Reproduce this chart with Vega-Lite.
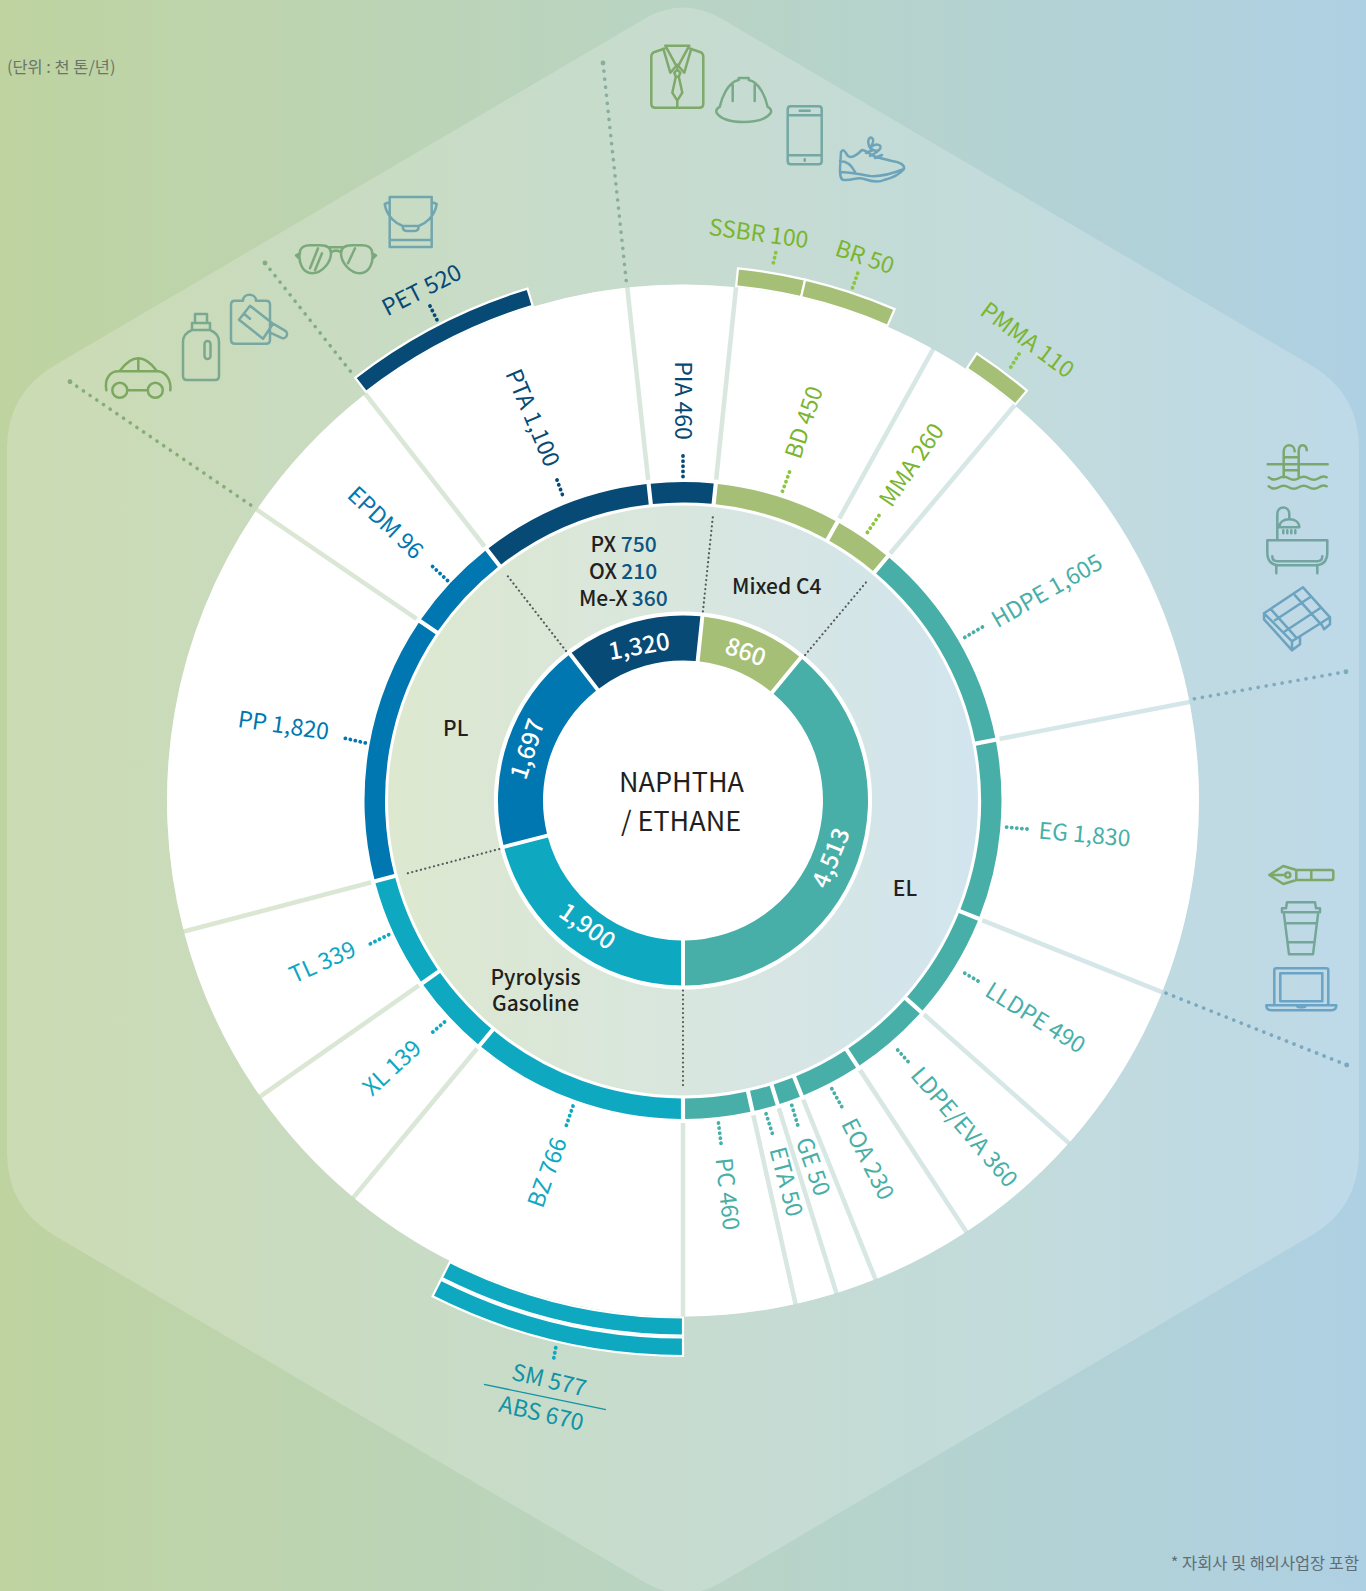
{
"$schema":"https://vega.github.io/schema/vega-lite/v6.json",
"width":1366,"height":1591,"autosize":{"type":"none"},"padding":0,"background":"#b9d4c4",
"config":{"view":{"stroke":null},"axis":{"disable":true},"text":{"font":"Noto Sans CJK KR"}},
"datasets":{
"one":[{"name":"panel"}],
"full":[{"a0":0,"a1":360}],
"seg":[
{"n":"PTA","a0":-38,"a1":-6.2,"g":"PX"},{"n":"PIA","a0":-6.2,"a1":5.9,"g":"PX"},{"n":"BD","a0":5.9,"a1":29,"g":"C4"},{"n":"MMA","a0":29,"a1":40,"g":"C4"},
{"n":"HDPE","a0":40,"a1":79,"g":"EL"},{"n":"EG","a0":79,"a1":111.8,"g":"EL"},{"n":"LLDPE","a0":111.8,"a1":131.6,"g":"EL"},{"n":"LDPE/EVA","a0":131.6,"a1":146.7,"g":"EL"},
{"n":"EOA","a0":146.7,"a1":158.1,"g":"EL"},{"n":"GE","a0":158.1,"a1":162.7,"g":"EL"},{"n":"ETA","a0":162.7,"a1":167.4,"g":"EL"},{"n":"PC","a0":167.4,"a1":180,"g":"EL"},
{"n":"BZ","a0":180,"a1":219.7,"g":"PG"},{"n":"XL","a0":219.7,"a1":235,"g":"PG"},{"n":"TL","a0":235,"a1":255.3,"g":"PG"},{"n":"PP","a0":255.3,"a1":304.3,"g":"PL"},{"n":"EPDM","a0":304.3,"a1":322,"g":"PL"}],
"core":[
{"n":"1,320","a0":-37.6,"a1":6,"g":"PX"},{"n":"860","a0":6,"a1":39.5,"g":"C4"},{"n":"4,513","a0":39.5,"a1":180,"g":"EL"},{"n":"1,900","a0":180,"a1":255.5,"g":"PG"},{"n":"1,697","a0":255.5,"a1":322.4,"g":"PL"}],
"ext":[
{"n":"PET","a0":-37.8,"a1":-16.9,"g":"PX"},{"n":"SSBR","a0":5.9,"a1":13.2,"g":"C4"},{"n":"BR","a0":13.2,"a1":23.3,"g":"C4"},{"n":"PMMA","a0":33.3,"a1":40,"g":"C4"},{"n":"SM","a0":180,"a1":206.8,"g":"PG"}],
"abs":[{"n":"ABS","a0":180,"a1":206.8,"g":"PG"}],
"labels":[
{"t":"PET 520","a":332.9,"r":572.5,"rot":-27,"g":"PX"},{"t":"PTA 1,100","a":338.4,"r":411,"rot":67,"g":"PX"},{"t":"PIA 460","a":359.9,"r":400,"rot":90,"g":"PX"},
{"t":"BD 450","a":17.9,"r":397,"rot":-72,"g":"C4"},{"t":"MMA 260","a":34.4,"r":406,"rot":-55.6,"g":"C4"},{"t":"HDPE 1,605","a":60.2,"r":420,"rot":-29.8,"g":"EL"},
{"t":"EG 1,830","a":95,"r":403,"rot":5,"g":"EL"},{"t":"LLDPE 490","a":121.8,"r":414,"rot":31.8,"g":"EL"},{"t":"LDPE/EVA 360","a":139.4,"r":431,"rot":49.4,"g":"EL"},
{"t":"EOA 230","a":152.9,"r":403.5,"rot":63,"g":"EL"},{"t":"GE 50","a":160.6,"r":388.5,"rot":70.6,"g":"EL"},{"t":"ETA 50","a":165,"r":395,"rot":75,"g":"EL"},{"t":"PC 460","a":173.7,"r":396,"rot":83.7,"g":"EL"},
{"t":"BZ 766","a":199.9,"r":396,"rot":-70,"g":"PG"},{"t":"XL 139","a":227.3,"r":395,"rot":-42.7,"g":"PG"},{"t":"TL 339","a":245.7,"r":395,"rot":-24.3,"g":"PG"},
{"t":"PP 1,820","a":280.5,"r":406.5,"rot":8,"g":"PL"},{"t":"EPDM 96","a":312.9,"r":407,"rot":43,"g":"PL"},
{"t":"SSBR 100","a":7.6,"r":571,"rot":7.6,"g":"C4"},{"t":"BR 50","a":18.5,"r":572,"rot":18.5,"g":"C4"},{"t":"PMMA 110","a":36.8,"r":574,"rot":36.8,"g":"C4"},
{"t":"SM 577","a":193,"r":596,"rot":13,"g":"SM"},{"t":"ABS 670","a":193,"r":630,"rot":13,"g":"SM"}],
"values":[
{"t":"1,320","a":344,"r":159,"rot":-10},{"t":"860","a":22.9,"r":160,"rot":20},{"t":"4,513","a":111.2,"r":160,"rot":-68},{"t":"1,900","a":217.2,"r":159.4,"rot":35},{"t":"1,697","a":288.3,"r":162.6,"rot":-72}],
"zone":[
{"t":"PX","x":603.3,"y":546,"g":"k"},{"t":"750","x":638.8,"y":546,"g":"b"},{"t":"OX","x":603,"y":573,"g":"k"},{"t":"210","x":639.3,"y":573,"g":"b"},{"t":"Me-X","x":603.3,"y":600,"g":"k"},{"t":"360","x":649.7,"y":600,"g":"b"},
{"t":"Mixed C4","x":776.7,"y":588,"g":"k"},{"t":"PL","x":455.7,"y":730,"g":"k"},{"t":"EL","x":905,"y":890,"g":"k"},{"t":"Pyrolysis","x":535.5,"y":978.5,"g":"k"},{"t":"Gasoline","x":535.5,"y":1005,"g":"k"}],
"hub":[{"t":"NAPHTHA","x":681.5,"y":784},{"t":"/ ETHANE","x":681,"y":823}],
"inner":[
{"x":702.9,"y":611.5,"x2":712.8,"y2":517.1},{"x":805.1,"y":655,"x2":866.2,"y2":582.2},{"x":683,"y":990.5,"x2":683,"y2":1085.5},{"x":499.3,"y":849,"x2":407.5,"y2":873.3},{"x":566,"y":651,"x2":507.5,"y2":575.9}],
"long":[
{"n":"packaging","x":265,"y":263,"x2":353.3,"y2":375,"g":"a"},{"n":"auto","x":70,"y":381.7,"x2":255,"y2":508,"g":"b"},{"n":"apparel","x":603,"y":63,"x2":626.7,"y2":285,"g":"c"},{"n":"housing","x":1346,"y":671.7,"x2":1187.4,"y2":700,"g":"d"},{"n":"office","x":1346.7,"y":1065,"x2":1162,"y2":991.5,"g":"e"}],
"dots":[
{"x":430,"y":306,"x2":437,"y2":320,"g":"PX"},{"x":557,"y":480,"x2":564,"y2":499,"g":"PX"},{"x":683,"y":456,"x2":683,"y2":477,"g":"PX"},
{"x":789.5,"y":472,"x2":781.5,"y2":494,"g":"C4"},{"x":879,"y":515.5,"x2":865.6,"y2":535,"g":"C4"},{"x":982.4,"y":627,"x2":962,"y2":639,"g":"EL"},
{"x":1027,"y":829,"x2":1004.7,"y2":827,"g":"EL"},{"x":978,"y":981,"x2":961,"y2":971,"g":"EL"},{"x":908,"y":1061.5,"x2":895,"y2":1047,"g":"EL"},
{"x":841.7,"y":1106.7,"x2":830.7,"y2":1086.7,"g":"EL"},{"x":797.7,"y":1125,"x2":791.7,"y2":1105,"g":"EL"},{"x":772.3,"y":1133.3,"x2":765.7,"y2":1112.7,"g":"EL"},{"x":721,"y":1143.3,"x2":718.3,"y2":1121.7,"g":"EL"},
{"x":573,"y":1106,"x2":566,"y2":1126.5,"g":"PG"},{"x":444.5,"y":1022,"x2":429.3,"y2":1035,"g":"PG"},{"x":388.7,"y":934.7,"x2":368.4,"y2":944.8,"g":"PG"},
{"x":365.3,"y":742.9,"x2":343,"y2":737.8,"g":"PL"},{"x":447.5,"y":580.5,"x2":430.3,"y2":564.3,"g":"PL"},
{"x":775.7,"y":252.7,"x2":772.3,"y2":267.3,"g":"C4"},{"x":857.7,"y":273.3,"x2":852.3,"y2":288.3,"g":"C4"},{"x":1019,"y":354,"x2":1008.8,"y2":370.4,"g":"C4"},{"x":555.7,"y":1347.7,"x2":553,"y2":1362.3,"g":"PG"}],
"icons":[
{"i":"car","x":138.3,"y":378.3},{"i":"bottle","x":201,"y":347},{"i":"board","x":259,"y":316.7},{"i":"glasses","x":336,"y":259.3},{"i":"bucket","x":410.7,"y":222},
{"i":"shirt","x":677.3,"y":76.7},{"i":"helmet","x":743.7,"y":100},{"i":"phone","x":804.7,"y":135.3},{"i":"shoe","x":872,"y":160},
{"i":"pool","x":1297.7,"y":467.3},{"i":"bath","x":1297.3,"y":540.3},{"i":"pallet","x":1297,"y":619.3},
{"i":"pen","x":1301.3,"y":875},{"i":"cup","x":1301,"y":928.3},{"i":"laptop","x":1301.3,"y":989.3}],
"divider":[{"x":484,"y":1384.3,"x2":605.9,"y2":1409.7}]
},
"layer":[
{"data":{"name":"one"},"mark":{"type":"rect","color":{"gradient":"linear","x1":0,"y1":0,"x2":1,"y2":0,"stops":[{"offset":0,"color":"#bfd3a0"},{"offset":0.5,"color":"#b9d4c4"},{"offset":1,"color":"#aed0e3"}]}},
 "encoding":{"x":{"datum":0,"type":"quantitative","scale":{"domain":[0,1366],"range":[0,1366],"nice":false}},"x2":{"datum":1366},"y":{"datum":0,"type":"quantitative","scale":{"domain":[0,1591],"range":[0,1591],"nice":false}},"y2":{"datum":1591}}},
{"data":{"name":"one"},"mark":{"type":"point","filled":true,"color":"#ffffff","opacity":0.2,"size":4,"shape":"M-38,-782 Q0,-804 38,-782 L628.6,-434.9 Q676,-407 676,-352 L676,352 Q676,407 628.6,434.9 L38,782 Q0,804 -38,782 L-628.6,434.9 Q-676,407 -676,352 L-676,-352 Q-676,-407 -628.6,-434.9 Z"},
 "encoding":{"x":{"datum":683,"type":"quantitative"},"y":{"datum":800.5,"type":"quantitative"}}},
{"data":{"name":"full"},"mark":{"type":"arc","innerRadius":0,"outerRadius":516,"color":"#ffffff","opacity":0.33},
 "encoding":{"x":{"datum":683,"type":"quantitative"},"y":{"datum":800.5,"type":"quantitative"},"theta":{"field":"a0","type":"quantitative","stack":null,"scale":{"domain":[0,360],"range":[0,6.283185307179586]}},"theta2":{"field":"a1"}}},
{"data":{"name":"full"},"mark":{"type":"arc","innerRadius":0,"outerRadius":296,"color":{"gradient":"linear","x1":0,"y1":0,"x2":1,"y2":0,"stops":[{"offset":0,"color":"#dde8cf"},{"offset":0.5,"color":"#d8e6de"},{"offset":1,"color":"#d2e5ef"}]}},
 "encoding":{"x":{"datum":683,"type":"quantitative"},"y":{"datum":800.5,"type":"quantitative"},"theta":{"field":"a0","type":"quantitative","stack":null,"scale":{"domain":[0,360],"range":[0,6.283185307179586]}},"theta2":{"field":"a1"}}},
{"data":{"name":"full"},"mark":{"type":"arc","innerRadius":295,"outerRadius":322.5,"color":"#ffffff"},
 "encoding":{"x":{"datum":683,"type":"quantitative"},"y":{"datum":800.5,"type":"quantitative"},"theta":{"field":"a0","type":"quantitative","stack":null,"scale":{"domain":[0,360],"range":[0,6.283185307179586]}},"theta2":{"field":"a1"}}},
{"data":{"name":"seg"},"mark":{"type":"arc","innerRadius":322,"outerRadius":516,"padAngle":0.0075,"color":"#ffffff"},
 "encoding":{"x":{"datum":683,"type":"quantitative"},"y":{"datum":800.5,"type":"quantitative"},"theta":{"field":"a0","type":"quantitative","stack":null,"scale":{"domain":[0,360],"range":[0,6.283185307179586]}},"theta2":{"field":"a1"}}},
{"data":{"name":"full"},"mark":{"type":"arc","innerRadius":0,"outerRadius":189,"color":"#ffffff"},
 "encoding":{"x":{"datum":683,"type":"quantitative"},"y":{"datum":800.5,"type":"quantitative"},"theta":{"field":"a0","type":"quantitative","stack":null,"scale":{"domain":[0,360],"range":[0,6.283185307179586]}},"theta2":{"field":"a1"}}},
{"data":{"name":"core"},"mark":{"type":"arc","innerRadius":140,"outerRadius":185,"padAngle":0.017},
 "encoding":{"x":{"datum":683,"type":"quantitative"},"y":{"datum":800.5,"type":"quantitative"},"theta":{"field":"a0","type":"quantitative","stack":null,"scale":{"domain":[0,360],"range":[0,6.283185307179586]}},"theta2":{"field":"a1"},
 "color":{"field":"g","type":"nominal","legend":null,"scale":{"domain":["PX","C4","EL","PG","PL"],"range":["#064a75","#a5c076","#47afa7","#0ea8c1","#0077b0"]}}}},
{"data":{"name":"seg"},"mark":{"type":"arc","innerRadius":298,"outerRadius":318.5,"padAngle":0.0095},
 "encoding":{"x":{"datum":683,"type":"quantitative"},"y":{"datum":800.5,"type":"quantitative"},"theta":{"field":"a0","type":"quantitative","stack":null,"scale":{"domain":[0,360],"range":[0,6.283185307179586]}},"theta2":{"field":"a1"},
 "color":{"field":"g","type":"nominal","legend":null,"scale":{"domain":["PX","C4","EL","PG","PL"],"range":["#064a75","#a5c076","#47afa7","#0ea8c1","#0077b0"]}}}},
{"data":{"name":"ext"},"mark":{"type":"arc","innerRadius":517,"outerRadius":535,"stroke":"#ffffff","strokeWidth":2.2},
 "encoding":{"x":{"datum":683,"type":"quantitative"},"y":{"datum":800.5,"type":"quantitative"},"theta":{"field":"a0","type":"quantitative","stack":null,"scale":{"domain":[0,360],"range":[0,6.283185307179586]}},"theta2":{"field":"a1"},
 "fill":{"field":"g","type":"nominal","legend":null,"scale":{"domain":["PX","C4","PG"],"range":["#064a75","#a5c076","#0ea8c1"]}}}},
{"data":{"name":"abs"},"mark":{"type":"arc","innerRadius":537,"outerRadius":555.5,"stroke":"#ffffff","strokeWidth":2.2,"color":"#0ea8c1"},
 "encoding":{"x":{"datum":683,"type":"quantitative"},"y":{"datum":800.5,"type":"quantitative"},"theta":{"field":"a0","type":"quantitative","stack":null,"scale":{"domain":[0,360],"range":[0,6.283185307179586]}},"theta2":{"field":"a1"}}},
{"data":{"name":"inner"},"mark":{"type":"rule","color":"#555a5c","strokeWidth":2.2,"strokeCap":"round","strokeDash":[0.1,4.4]},
 "encoding":{"x":{"field":"x","type":"quantitative"},"y":{"field":"y","type":"quantitative"},"x2":{"field":"x2"},"y2":{"field":"y2"}}},
{"data":{"name":"long"},"mark":{"type":"rule","strokeWidth":3.6,"strokeCap":"round","strokeDash":[0.1,8]},
 "encoding":{"x":{"field":"x","type":"quantitative"},"y":{"field":"y","type":"quantitative"},"x2":{"field":"x2"},"y2":{"field":"y2"},
 "color":{"field":"g","type":"nominal","legend":null,"scale":{"domain":["a","b","c","d","e"],"range":["#83ab84","#86ad78","#8aae9e","#7fabbf","#79a9c1"]}}}},
{"data":{"name":"long"},"mark":{"type":"point","filled":true,"opacity":1,"size":24},
 "encoding":{"x":{"field":"x","type":"quantitative"},"y":{"field":"y","type":"quantitative"},
 "color":{"field":"g","type":"nominal","legend":null,"scale":{"domain":["a","b","c","d","e"],"range":["#83ab84","#86ad78","#8aae9e","#7fabbf","#79a9c1"]}}}},
{"data":{"name":"dots"},"mark":{"type":"rule","strokeWidth":3.8,"strokeCap":"round","strokeDash":[0.1,5]},
 "encoding":{"x":{"field":"x","type":"quantitative"},"y":{"field":"y","type":"quantitative"},"x2":{"field":"x2"},"y2":{"field":"y2"},
 "color":{"field":"g","type":"nominal","legend":null,"scale":{"domain":["PX","C4","EL","PG","PL"],"range":["#064a75","#8cc63f","#47afa7","#0ea8c1","#0077b0"]}}}},
{"data":{"name":"divider"},"mark":{"type":"rule","color":"#1093a5","strokeWidth":1.3},
 "encoding":{"x":{"field":"x","type":"quantitative"},"y":{"field":"y","type":"quantitative"},"x2":{"field":"x2"},"y2":{"field":"y2"}}},
{"data":{"name":"labels"},"mark":{"type":"text","fontSize":23,"fontWeight":400,"align":"center","baseline":"middle"},
 "encoding":{"x":{"datum":683,"type":"quantitative"},"y":{"datum":800.5,"type":"quantitative"},"theta":{"field":"a","type":"quantitative","stack":null,"scale":{"domain":[0,360],"range":[0,6.283185307179586]}},
 "radius":{"field":"r","type":"quantitative","scale":{"domain":[0,700],"range":[0,700]}},
 "angle":{"field":"rot","type":"quantitative","scale":null},"text":{"field":"t"},
 "color":{"field":"g","type":"nominal","legend":null,"scale":{"domain":["PX","C4","EL","PG","PL","SM"],"range":["#064a75","#7ab52f","#47afa7","#0ea8c1","#0077b0","#1093a5"]}}}},
{"data":{"name":"values"},"mark":{"type":"text","fontSize":24,"align":"center","baseline":"middle","color":"#ffffff","fontWeight":500},
 "encoding":{"x":{"datum":683,"type":"quantitative"},"y":{"datum":800.5,"type":"quantitative"},"theta":{"field":"a","type":"quantitative","stack":null,"scale":{"domain":[0,360],"range":[0,6.283185307179586]}},
 "radius":{"field":"r","type":"quantitative","scale":{"domain":[0,700],"range":[0,700]}},
 "angle":{"field":"rot","type":"quantitative","scale":null},"text":{"field":"t"}}},
{"data":{"name":"zone"},"mark":{"type":"text","fontSize":21,"fontWeight":500,"align":"center","baseline":"middle"},
 "encoding":{"x":{"field":"x","type":"quantitative"},"y":{"field":"y","type":"quantitative"},"text":{"field":"t"},
 "color":{"field":"g","type":"nominal","legend":null,"scale":{"domain":["k","b"],"range":["#231f20","#0d5582"]}}}},
{"data":{"name":"hub"},"mark":{"type":"text","fontSize":27,"fontWeight":400,"align":"center","baseline":"middle","color":"#231f20"},
 "encoding":{"x":{"field":"x","type":"quantitative"},"y":{"field":"y","type":"quantitative"},"text":{"field":"t"}}},
{"data":{"name":"one"},"mark":{"type":"text","fontSize":16.4,"align":"left","baseline":"middle","color":"#6a7668","text":"(단위 : 천 톤/년)"},
 "encoding":{"x":{"datum":7,"type":"quantitative"},"y":{"datum":68,"type":"quantitative"}}},
{"data":{"name":"one"},"mark":{"type":"text","fontSize":16.4,"align":"right","baseline":"middle","color":"#5e6e78","text":"* 자회사 및 해외사업장 포함"},
 "encoding":{"x":{"datum":1359,"type":"quantitative"},"y":{"datum":1564,"type":"quantitative"}}},
{"data":{"name":"icons"},"mark":{"type":"point","filled":false,"opacity":1,"size":4,"strokeWidth":2.5,"strokeJoin":"round","strokeCap":"round"},
 "encoding":{"x":{"field":"x","type":"quantitative"},"y":{"field":"y","type":"quantitative"},
 "color":{"field":"i","type":"nominal","legend":null,"scale":{"domain":["car","bottle","board","glasses","bucket","shirt","helmet","phone","shoe","pool","bath","pallet","pen","cup","laptop"],"range":["#7da85f","#7aa98f","#77a8a4","#7ca97c","#72a6ae","#7fa96a","#78aa88","#74a8a2","#6da4ba","#7aa86c","#72a59f","#6ba3c0","#7ca868","#74a79a","#6aa3c4"]}},
 "shape":{"field":"i","type":"nominal","legend":null,"scale":{"domain":["car","bottle","board","glasses","bucket","shirt","helmet","phone","shoe","pool","bath","pallet","pen","cup","laptop"],"range":[
 "M-32,12 C-34,0 -28,-7 -20,-7 L20,-7 C28,-6 33,2 32,12 M-18,-8 C-12,-16 -6,-20 0,-20 C6,-20 12,-16 18,-8 M0,-20 L0,-7 M-26,12 a7.5,7.5 0 1,0 15,0 a7.5,7.5 0 1,0 -15,0 M9.5,12 a7.5,7.5 0 1,0 15,0 a7.5,7.5 0 1,0 -15,0 M-11,12 L9.5,12",
 "M-9,-24 L-9,-17 C-14,-15 -18,-11 -18,-5 L-18,29 Q-18,33 -14,33 L14,33 Q18,33 18,29 L18,-5 C18,-11 14,-15 9,-17 L9,-24 Z M-6,-24 L-6,-33 L6,-33 L6,-24 M-9,-17 L9,-17 M3.5,-3 a3,3 0 0,1 6,0 L9.5,9 a3,3 0 0,1 -6,0 Z",
 "M-24,-16 L-16,-16 C-16,-24 -3,-24 -3,-16 L7,-16 Q11,-16 11,-12 L11,23 Q11,27 7,27 L-24,27 Q-28,27 -28,23 L-28,-12 Q-28,-16 -24,-16 Z M-9,-11 L14,7 L4,22 L-20,3 Z M-15,-3 L-9,2 M14,7 L26,14 a4,4 0 0,1 -4,7 L9,15",
 "M-36,-8 C-38,2 -34,14 -24,14 C-13,14 -5,2 -5,-6 C-5,-12 -10,-14 -16,-14 L-26,-14 C-31,-14 -35,-12 -36,-8 Z M36,-8 C38,2 34,14 24,14 C13,14 5,2 5,-6 C5,-12 10,-14 16,-14 L26,-14 C31,-14 35,-12 36,-8 Z M-5,-7 C-2,-9 2,-9 5,-7 M-8,-12 L8,-12 M-36,-6 L-40,-4 L-37,-1 M36,-6 L40,-4 L37,-1 M-18,-11 L-26,9 M-14,-6 L-21,11 M19,-11 L12,4",
 "M-21,-25 L21,-25 L21,25 L-21,25 Z M-21,18 L21,18 M-26,-18 L-21,-20 M26,-18 L21,-20 M-26,-18 C-24,-5 -14,2 -8,4 L8,4 C14,2 24,-5 26,-18 M-8,4 Q-8,9 -4,9 L4,9 Q8,9 8,4",
 "M-13,-28 L-22,-25 Q-26,-24 -26,-20 L-26,27 Q-26,31 -22,31 L22,31 Q26,31 26,27 L26,-20 Q26,-24 22,-25 L13,-28 M-12,-31 L12,-31 M-14,-28 L-7,-4 L0,-12 L7,-4 L14,-28 M-12,-31 L0,-9 L12,-31 M-3,-4 L0,-7 L3,-4 L1.5,0 L-1.5,0 Z M-1.5,0 L-5,16 L0,24 L5,16 L1.5,0 M0,24 L0,31",
 "M-5,-20 L-5,-22 L5,-22 L5,-20 C16,-18 22,-2 24,7 C27,8 28,11 27,13 C22,20 10,22 0,22 C-10,22 -22,20 -27,13 C-28,11 -27,8 -24,7 C-22,-2 -16,-18 -5,-20 M-11,-15 L-11,1 M11,-15 L11,1",
 "M-14,-29 L14,-29 Q17,-29 17,-26 L17,26 Q17,29 14,29 L-14,29 Q-17,29 -17,26 L-17,-26 Q-17,-29 -14,-29 Z M-17,-20 L17,-20 M-17,20 L17,20 M-5,-24.5 L5,-24.5 M0,24 L0,25.5",
 "M-31,-8 C-28,-12 -27,-8 -24,-4 C-20,-1 -14,-6 -10,-10 C-6,-10 -2,-5 4,-3 L20,1 C28,2 33,5 32,9 C28,14 20,18 12,20 C6,23 -2,21 -8,19 C-14,16 -20,21 -28,20 C-32,20 -32,14 -32,8 Z M-32,12 C-20,12 -10,15 -2,16 C10,17 22,13 32,9 M-32,1 C-24,1 -20,6 -17,12 M-6,-7 L1,-10 M-2,-4 L5,-8 M3,-2 L10,-5 M-2,-12 C-6,-20 -2,-24 0,-22 C3,-20 0,-15 -2,-12 C4,-18 12,-15 7,-10 C5,-8 0,-10 -2,-12",
 "M-14,10 L-14,-16 C-14,-24 -3,-24 -3,-16 M1,10 L1,-16 C1,-24 9,-24 9,-17 M-30,-3 L30,-3 M-14,-10 L1,-10 M-14,3 L1,3 M-29,10 Q-24,14 -19,11 Q-14,8 -9,11 Q-4,14 1,11 Q6,8 11,11 Q16,14 21,11 Q25,8 29,10 M-29,19 Q-24,23 -19,20 Q-14,17 -9,20 Q-4,23 1,20 Q6,17 11,20 Q16,23 21,20 Q25,17 29,19",
 "M-30,0 L30,0 L30,12 Q30,25 18,25 L-18,25 Q-30,25 -30,12 Z M-25,16 Q-25,21 -20,21 L20,21 Q25,21 25,16 M-21,25 L-21,33 M20,25 L20,33 M-20,0 L-20,-26 C-20,-35 -8,-35 -8,-26 L-8,-21 M-18,-13 C-18,-18 -14,-21 -8,-21 C-2,-21 2,-18 2,-13 Z M-14,-10 L-14,-7 M-10,-10 L-10,-7 M-6,-10 L-6,-7 M-2,-10 L-2,-7",
 "M-33,-6 L6,-32 L33,-2 L-5,22 Z M-33,-6 L-33,0 L-5,31 L-5,22 M-5,31 L3,25 L3,18 M33,-2 L33,5 L27,10 L24,4 M-22,1 L13,-22 M-12,12 L23,-11 M-26,-10 L-1,18 M-2,-24 L24,5",
 "M-32,0 L-18,-9 L-5,-5 L-5,5 L-18,9 Z M-32,0 L-16,0 M-5,-5 L30,-5 Q32,-5 32,-3 L32,3 Q32,5 30,5 L-5,5 M10,-5 L10,5 M-16,0 a2.5,2.5 0 1,0 5,0 a2.5,2.5 0 1,0 -5,0",
 "M-14,-26 L14,-26 L15,-20 L19,-20 L19,-16 L-19,-16 L-19,-20 L-15,-20 Z M-17,-14 L-12,26 L12,26 L17,-14 M-15,-5 L15,-5 M-13,14 L13,14",
 "M-27,15 L-27,-19 Q-27,-21 -25,-21 L25,-21 Q27,-21 27,-19 L27,15 M-21,-16 L21,-16 L21,12 L-21,12 Z M-35,16 L35,16 Q35,21 30,21 L-30,21 Q-35,21 -35,16 Z M-5,16 Q-4,18 -2,18 L2,18 Q4,18 5,16"
 ]}}}}
],
"resolve":{"scale":{"color":"independent","fill":"independent","shape":"independent"}}
}
